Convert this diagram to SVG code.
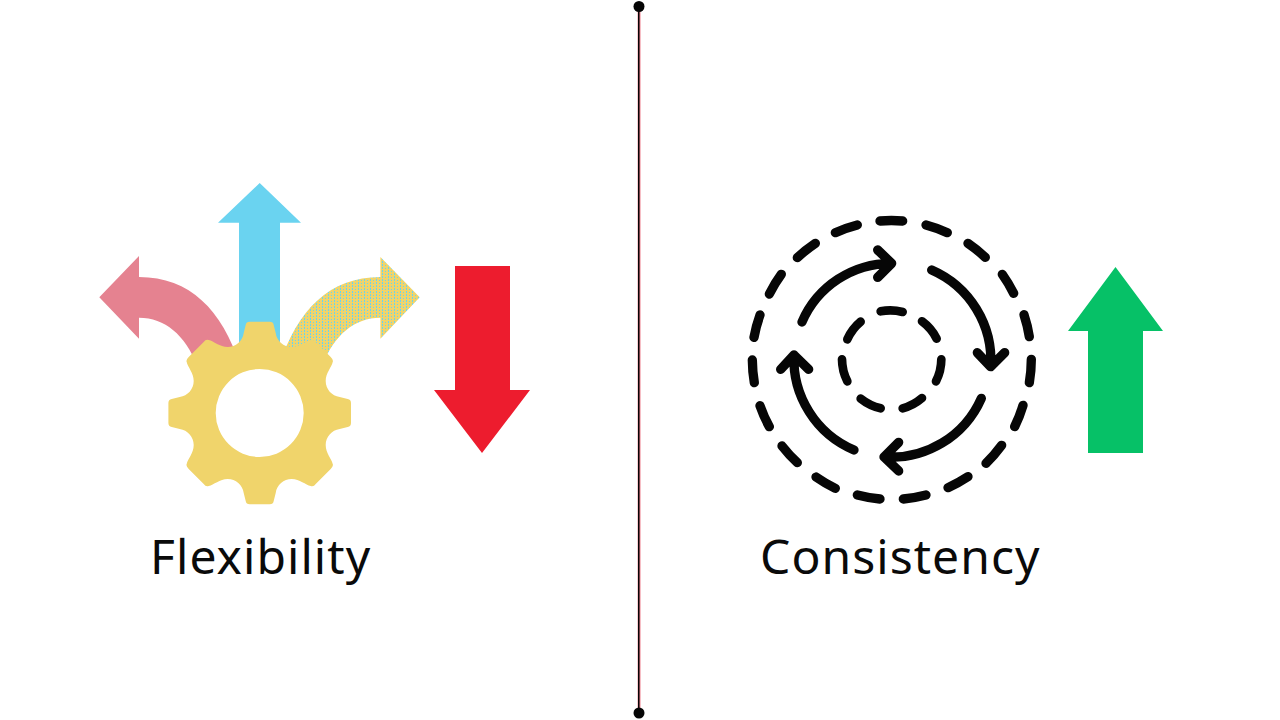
<svg xmlns="http://www.w3.org/2000/svg" width="1280" height="720" viewBox="0 0 1280 720">
<style>
.label{font-family:"Noto Sans","Open Sans",sans-serif;font-size:48px;letter-spacing:1.05px;fill:#0a0a0a}
.ring{fill:none;stroke:#060606;stroke-width:28;stroke-linecap:round;stroke-linejoin:round}
.inner{stroke-width:26}
</style>
<defs>
<pattern id="dither" width="6" height="3" patternUnits="userSpaceOnUse">
<rect width="6" height="3" fill="#F0D46B"/>
<rect x="1" y="1" width="1" height="1" fill="#6AD3F0"/>
<rect x="4" y="0" width="1" height="2" fill="#6AD3F0"/>
</pattern>
</defs>
<rect width="1280" height="720" fill="#ffffff"/>
<g id="divider">
<rect x="637.6" y="6" width="2.9" height="707" fill="#EE7F8C"/>
<rect x="638" y="6" width="1.5" height="707" fill="#050505"/>
<circle cx="639" cy="6.500" r="5.500" fill="#050505"/>
<circle cx="639" cy="713" r="5.500" fill="#050505"/>
</g>
<g id="flexibility">
<path id="arrow-up" fill="#6AD3F0" d="M259.7,183L301,222.7H280V350H239V222.7H218Z"/>
<path id="arrow-left" fill="#E58290" d="M99.3,297.3L139,256V277C190,277 222,310 240,365L197,365C185,335 165,317.7 139,317.7V338.7Z"/>
<path id="arrow-right" fill="url(#dither)" d="M419.7,297.3L380.4,257V277C329.4,277 297.4,310 279.4,365L322.4,365C334.4,335 354.4,317.7 380.4,317.7V338.7Z"/>
<path id="gear" fill="#F0D46B" fill-rule="evenodd" transform="translate(259.7 413)" d="M-10,-91.3L10,-91.3Q13.5,-91.3 14,-88L16,-80C17,-72 24,-66 32,-66C40,-66 46,-72 51,-73Q54,-74 56,-71L71,-56Q74,-53 73,-51C72,-46 66,-40 66,-32C66,-24 72,-17 80,-16L88,-14Q91.3,-13.5 91.3,-10L91.3,10Q91.3,13.5 88,14L80,16C72,17 66,24 66,32C66,40 72,46 73,51Q74,53 71,56L56,71Q54,74 51,73C46,72 40,66 32,66C24,66 17,72 16,80L14,88Q13.5,91.3 10,91.3L-10,91.3Q-13.5,91.3 -14,88L-16,80C-17,72 -24,66 -32,66C-40,66 -46,72 -51,73Q-54,74 -56,71L-71,56Q-74,53 -73,51C-72,46 -66,40 -66,32C-66,24 -72,17 -80,16L-88,14Q-91.3,13.5 -91.3,10L-91.3,-10Q-91.3,-13.5 -88,-14L-80,-16C-72,-17 -66,-24 -66,-32C-66,-40 -72,-46 -73,-51Q-74,-53 -71,-56L-56,-71Q-54,-74 -51,-73C-46,-72 -40,-66 -32,-66C-24,-66 -17,-72 -16,-80L-14,-88Q-13.5,-91.3 -10,-91.3ZM-44,0A44,44 0 1 0 44,0A44,44 0 1 0 -44,0Z"/>
<path id="arrow-down" fill="#ED1C2E" d="M455,266H510V390H530L482,453L434,390H455Z"/>
<text class="label" x="150" y="574">Flexibility</text>
</g>
<g id="consistency">
<g id="cycle" transform="translate(740 210) scale(0.33333)">
<g id="ring-outer" class="ring">
<path d="M420,33A417,417 0 0 1 488,33"/>
<path d="M558,45A417,417 0 0 1 622,68"/>
<path d="M684,100A417,417 0 0 1 736,142"/>
<path d="M787,193A417,417 0 0 1 821,250"/>
<path d="M852,314A417,417 0 0 1 868,380"/>
<path d="M874,448A417,417 0 0 1 868,518"/>
<path d="M849,586A417,417 0 0 1 824,650"/>
<path d="M785,706A417,417 0 0 1 738,760"/>
<path d="M684,800A417,417 0 0 1 624,833"/>
<path d="M558,855A417,417 0 0 1 490,867"/>
<path d="M420,867A417,417 0 0 1 352,855"/>
<path d="M286,835A417,417 0 0 1 228,801"/>
<path d="M172,758A417,417 0 0 1 126,708"/>
<path d="M88,650A417,417 0 0 1 60,587"/>
<path d="M43,518A417,417 0 0 1 37,450"/>
<path d="M42,382A417,417 0 0 1 60,315"/>
<path d="M88,252A417,417 0 0 1 124,193"/>
<path d="M172,143A417,417 0 0 1 226,100"/>
<path d="M286,68A417,417 0 0 1 352,45"/>
</g>
<g id="ring-inner" class="ring inner">
<path d="M422,304A148,148 0 0 1 488,306"/>
<path d="M546,334A148,148 0 0 1 590,386"/>
<path d="M604,448A148,148 0 0 1 588,514"/>
<path d="M546,564A148,148 0 0 1 488,595"/>
<path d="M422,595A148,148 0 0 1 362,566"/>
<path d="M322,514A148,148 0 0 1 306,448"/>
<path d="M322,388A148,148 0 0 1 362,335"/>
</g>
<g id="ring-arrows" class="ring">
<path d="M186,336A292,292 0 0 1 455,160M413,120L455,160L413,202"/>
<path d="M575,180A296,296 0 0 1 752,470M712,428L752,470L794,428"/>
<path d="M724,565A296,296 0 0 1 432,741M476,783L432,741L476,697"/>
<path d="M342,720A296,296 0 0 1 162,435M122,478L162,435L206,478"/>
</g>
</g>
<path id="arrow-green" fill="#06C167" d="M1115.500,267L1163,331H1143V453H1088V331H1068Z"/>
<text class="label" x="760" y="574">Consistency</text>
</g>
</svg>
